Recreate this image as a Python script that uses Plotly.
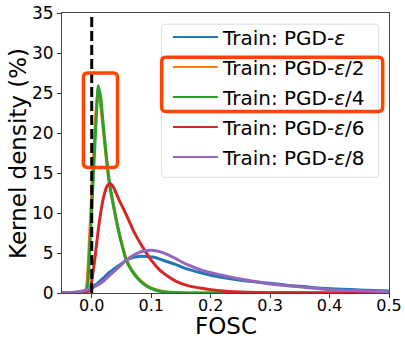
import plotly.graph_objects as go

names = ["Train: PGD-<i>ε</i>", "Train: PGD-<i>ε</i>/2", "Train: PGD-<i>ε</i>/4",
         "Train: PGD-<i>ε</i>/6", "Train: PGD-<i>ε</i>/8"]
colors = ["#1f77b4", "#ff7f0e", "#2ca02c", "#d62728", "#9467bd"]

x_eps = [-0.05, -0.03, -0.015, -0.005, 0.0, 0.01, 0.02, 0.03, 0.045, 0.058, 0.07, 0.083, 0.095,
         0.103, 0.12, 0.14, 0.159, 0.185, 0.215, 0.25, 0.294, 0.33, 0.36, 0.395, 0.45, 0.5]
y_eps = [0, 0.05, 0.2, 0.4, 0.7, 1.2, 1.9, 2.6, 3.4, 4.1, 4.45, 4.6, 4.55,
         4.5, 4.1, 3.6, 3.05, 2.5, 2.0, 1.6, 1.25, 0.95, 0.78, 0.55, 0.38, 0.25]

x_eps2 = [-0.05, -0.02, -0.01, -0.008, -0.003, 0.002, 0.007, 0.010, 0.014, 0.02, 0.025, 0.03, 0.037,
          0.044, 0.051, 0.058, 0.068, 0.08, 0.094, 0.108, 0.125, 0.15, 0.2, 0.5]
y_eps2 = [0, 0.06, 0.4, 1.2, 8, 15.5, 22.5, 24.9, 23.8, 20, 16.5, 13.5, 10.7,
          8.1, 6, 4.2, 2.8, 1.7, 0.85, 0.4, 0.14, 0.04, 0, 0]

x_eps4 = [-0.05, -0.02, -0.01, -0.007, -0.002, 0.003, 0.008, 0.011, 0.015, 0.02, 0.025, 0.03, 0.037,
          0.044, 0.051, 0.058, 0.068, 0.08, 0.094, 0.108, 0.125, 0.15, 0.2, 0.5]
y_eps4 = [0, 0.05, 0.3, 1, 7.5, 15, 22.5, 25.9, 24.5, 20.5, 16.8, 13.7, 10.8,
          8.2, 6, 4.1, 2.7, 1.6, 0.8, 0.35, 0.12, 0.03, 0, 0]

x_eps6 = [-0.05, -0.02, -0.008, -0.003, 0.003, 0.008, 0.013, 0.02, 0.026, 0.031, 0.036, 0.045, 0.058,
          0.07, 0.086, 0.1, 0.114, 0.13, 0.142, 0.16, 0.187, 0.215, 0.25, 0.3, 0.4, 0.5]
y_eps6 = [0, 0.02, 0.1, 0.5, 3, 6, 9, 12, 13.4, 13.7, 13.3, 11.8, 9.8,
          7.8, 5.7, 4.1, 2.9, 2.0, 1.45, 0.95, 0.55, 0.28, 0.12, 0.04, 0.01, 0]

x_eps8 = [-0.05, -0.03, -0.015, -0.005, 0.0, 0.01, 0.02, 0.03, 0.045, 0.058, 0.07, 0.083, 0.097,
          0.11, 0.125, 0.14, 0.159, 0.185, 0.215, 0.25, 0.294, 0.33, 0.36, 0.395, 0.45, 0.5]
y_eps8 = [0.02, 0.08, 0.25, 0.45, 0.6, 1.0, 1.5, 2.2, 3.2, 4.1, 4.7, 5.15, 5.35,
          5.25, 4.9, 4.35, 3.6, 2.85, 2.3, 1.75, 1.2, 0.9, 0.7, 0.45, 0.28, 0.15]

xs = [x_eps, x_eps2, x_eps4, x_eps6, x_eps8]
ys = [y_eps, y_eps2, y_eps4, y_eps6, y_eps8]

y_ticks = [0, 5, 10, 15, 20, 25, 30, 35]
x_ticks = [0.0, 0.1, 0.2, 0.3, 0.4, 0.5]

fig = go.Figure()
for x, y, c in zip(xs, ys, colors):
    fig.add_trace(go.Scatter(x=x, y=y, mode="lines", showlegend=False,
                             line=dict(color=c, width=3, shape="spline", smoothing=0.6)))
for i, (n, c) in enumerate(zip(names, colors)):
    fig.add_trace(go.Scatter(x=[None], y=[None], mode="lines", name=n, legendgroup=str(i),
                             line=dict(color=c, width=2)))
fig.add_trace(go.Scatter(x=[0, 0], y=[0, 35], mode="lines", showlegend=False,
                         line=dict(color="black", width=3, dash="10px,4px")))


def rrect(x0, x1, y0, y1, rx, ry):
    return (f"M{x0+rx},{y0} L{x1-rx},{y0} Q{x1},{y0} {x1},{y0+ry} L{x1},{y1-ry} "
            f"Q{x1},{y1} {x1-rx},{y1} L{x0+rx},{y1} Q{x0},{y1} {x0},{y1-ry} "
            f"L{x0},{y0+ry} Q{x0},{y0} {x0+rx},{y0} Z")

shapes = [
    dict(type="path", xref="x", yref="y", layer="above",
         path=rrect(0.1176, 0.4827, 14.46, 33.6, 0.005, 0.4),
         line=dict(color="#dddddd", width=1)),
    dict(type="path", xref="x", yref="y", layer="above",
         path=rrect(-0.014, 0.0433, 15.7, 27.5, 0.007, 0.55),
         line=dict(color="#ff4500", width=3.5)),
    dict(type="path", xref="x", yref="y", layer="above",
         path=rrect(0.1176, 0.4894, 22.7, 29.46, 0.007, 0.55),
         line=dict(color="#ff4500", width=3.5)),
]

font = "DejaVu Sans"
annotations = [
    dict(text="FOSC", xref="paper", yref="paper", x=0.5, y=-0.161,
         xanchor="center", yanchor="bottom", showarrow=False, font=dict(size=23),
         borderpad=0, yshift=-2),
    dict(text="Kernel density (%)", xref="paper", yref="paper", x=-0.1346, y=0.5,
         xanchor="center", yanchor="middle", showarrow=False, textangle=-90,
         font=dict(size=23)),
]
fig.update_layout(
    width=405, height=338,
    margin=dict(l=62, r=16, t=13, b=45, autoexpand=False),
    paper_bgcolor="white", plot_bgcolor="white",
    font=dict(family=font, color="black", size=16),
    shapes=shapes, annotations=annotations,
    showlegend=True,
    legend=dict(x=0.324, y=0.984, xanchor="left", yanchor="top",
                bgcolor="rgba(0,0,0,0)", borderwidth=0,
                font=dict(family=font, size=20), tracegroupgap=1, itemwidth=45),
    xaxis=dict(range=[-0.05, 0.5], tickvals=x_ticks, tickformat=".1f",
               ticks="outside", ticklen=4, tickcolor="#333", automargin=False,
               showgrid=False, zeroline=False, showline=True, linecolor="#444",
               linewidth=1, mirror=True, tickfont=dict(size=16), ticklabelstandoff=-6),
    yaxis=dict(range=[0, 35], tickvals=y_ticks, automargin=False,
               ticks="outside", ticklen=4, tickcolor="#333",
               showgrid=False, zeroline=False, showline=True, linecolor="#444",
               linewidth=1, mirror=True, tickfont=dict(size=17)),
)
fig.write_html("out.html")
